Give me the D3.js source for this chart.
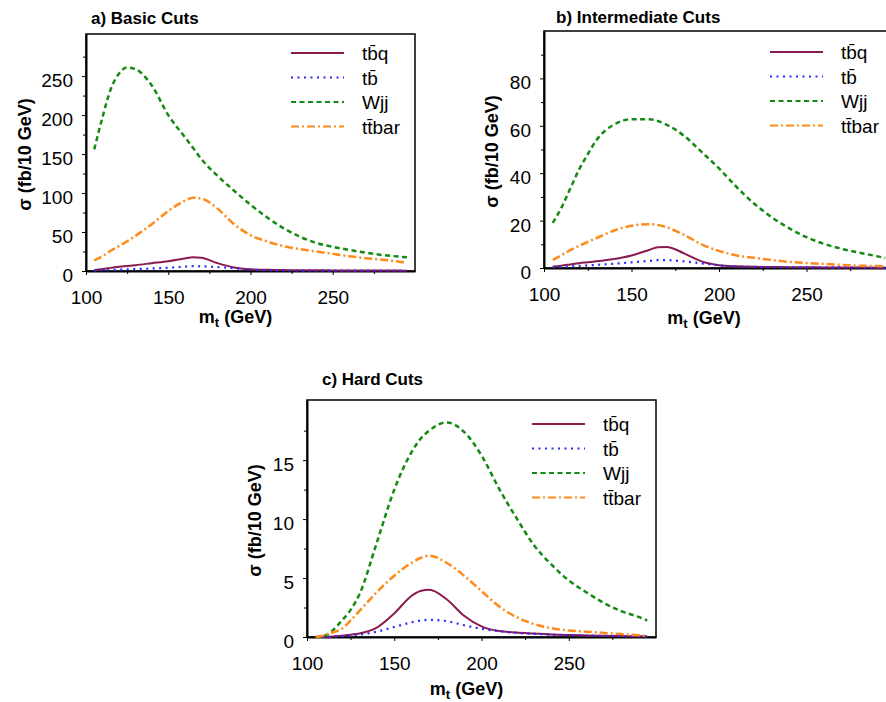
<!DOCTYPE html>
<html>
<head>
<meta charset="utf-8">
<script src="https://cdn.jsdelivr.net/npm/d3@7"></script>
<style>
    body { margin: 0; background: #fff; }
    svg { font-family: 'Liberation Sans', Arial, Helvetica, sans-serif; }
    .axis path, .axis line { stroke: #000; }
    .axis .domain { stroke-width: 2; }
    .frame { fill: none; stroke: #000; stroke-width: 1.5; }
    .title, .axis-label { font-weight: bold; }
</style>
</head>
<body>
<script>
// m_t grid (GeV)
const mt = [105, 110, 115, 120, 125, 130, 140, 150, 160, 165, 170, 180, 190, 200, 210, 220, 230, 240, 250, 260, 270, 280, 290, 295];

// a) basic cuts
const basicTbq = [1.3, 2.5, 4, 5.5, 6.5, 7.5, 10, 12.5, 16, 17.5, 17, 10, 4.5, 2.2, 1.5, 1.2, 1, 0.9, 0.8, 0.7, 0.6, 0.5, 0.5, 0.4];
const basicTb = [0.5, 1, 1.3, 1.7, 2, 2.4, 3.2, 4.2, 5.5, 6.2, 6, 5, 3.5, 1.8, 1, 0.7, 0.6, 0.5, 0.5, 0.4, 0.4, 0.3, 0.3, 0.3];
const basicWjj = [156, 197, 233, 253, 261, 259, 238, 200, 172, 158, 144, 122, 103, 85, 69, 55, 44, 36, 31, 27, 23.5, 20.5, 18.5, 17.5];
const basicTtbar = [13.5, 19, 26, 32, 38, 45, 60, 77, 90, 94, 93, 80, 60, 46, 38, 32, 28, 25, 22, 19, 16.5, 14.5, 12, 10.6];

// b) intermediate cuts
const interTbq = [0.6, 1, 1.5, 2, 2.4, 2.8, 3.8, 5.3, 7.6, 8.8, 8.9, 6.2, 2.8, 1.2, 0.7, 0.5, 0.4, 0.35, 0.3, 0.25, 0.2, 0.2, 0.15, 0.15];
const interTb = [0.3, 0.5, 0.7, 0.9, 1.1, 1.3, 1.8, 2.4, 3, 3.3, 3.3, 2.8, 2, 1.1, 0.6, 0.45, 0.4, 0.35, 0.3, 0.3, 0.25, 0.2, 0.2, 0.2];
const interWjj = [19, 25.5, 33.5, 41.5, 48, 54, 60.5, 62.8, 62.8, 62, 60.5, 55.8, 49, 42, 34.2, 27.2, 21.5, 16.8, 13, 10.2, 8.1, 6.5, 5, 4.2];
const interTtbar = [3.4, 5.4, 7.5, 9.3, 11, 12.6, 15.8, 17.8, 18.5, 18.2, 17.2, 14, 10, 7.2, 5.3, 4.3, 3.4, 2.6, 2.1, 1.7, 1.3, 1, 0.8, 0.7];

// c) hard cuts
const hardTbq = [0, 0.02, 0.05, 0.1, 0.2, 0.3, 0.8, 2, 3.5, 3.9, 4, 3.2, 1.8, 0.9, 0.5, 0.38, 0.3, 0.22, 0.17, 0.13, 0.1, 0.08, 0.06, 0.05];
const hardTb = [0, 0.01, 0.03, 0.07, 0.12, 0.2, 0.45, 0.85, 1.25, 1.4, 1.45, 1.35, 1, 0.7, 0.5, 0.35, 0.27, 0.2, 0.15, 0.12, 0.1, 0.08, 0.07, 0.06];
const hardWjj = [0, 0.1, 0.6, 1.4, 2.3, 3.6, 8, 12.5, 15.7, 16.8, 17.5, 18.2, 17.4, 15.4, 12.6, 10.1, 7.8, 6.15, 4.8, 3.8, 2.9, 2.2, 1.7, 1.4];
const hardTtbar = [0, 0.15, 0.4, 0.7, 1.4, 2.2, 3.8, 5.2, 6.3, 6.7, 6.9, 6.3, 5.2, 3.9, 2.6, 1.7, 1.1, 0.75, 0.55, 0.45, 0.35, 0.25, 0.15, 0.1];

const seriesNames = ['tb\u0304q', 'tb\u0304', 'Wjj', 'tt\u0304bar'];

const xMajor = [100, 150, 200, 250];
const xMinor = [125, 175, 225, 275];
const basicYTicks = [0, 50, 100, 150, 200, 250];
const basicYMinor = [25, 75, 125, 175, 225, 275];
const interYTicks = [0, 20, 40, 60, 80];
const interYMinor = [10, 30, 50, 70, 90];
const hardYTicks = [0, 5, 10, 15];
const hardYMinor = [2.5, 7.5, 12.5, 17.5];

const styles = [
    {color: '#8b1a4f', dash: null, width: 2},
    {color: '#2a2aff', dash: '2,4.5', width: 2.2},
    {color: '#138a13', dash: '5,3.5', width: 2.5},
    {color: '#ff8a1a', dash: '8,3,2,3', width: 2.5},
];

const panels = [
    {title: 'a) Basic Cuts', left: 86, top: 34, width: 329, height: 237, yMax: 304,
        yTicks: basicYTicks, yMinor: basicYMinor, titleX: 91, titleY: 24, yLabelX: 25, xLabelY: 323, legendTop: 53,
        series: [basicTbq, basicTb, basicWjj, basicTtbar]},
    {title: 'b) Intermediate Cuts', left: 544, top: 31, width: 350, height: 237, yMax: 100,
        yTicks: interYTicks, yMinor: interYMinor, titleX: 556, titleY: 23, yLabelX: 492, xLabelY: 324, legendTop: 52,
        series: [interTbq, interTb, interWjj, interTtbar]},
    {title: 'c) Hard Cuts', left: 307, top: 400, width: 349, height: 237, yMax: 20.1,
        yTicks: hardYTicks, yMinor: hardYMinor, titleX: 322, titleY: 385, yLabelX: 255, xLabelY: 695, legendTop: 424,
        series: [hardTbq, hardTb, hardWjj, hardTtbar]},
];

const fontStack = "'Liberation Sans', Arial, Helvetica, sans-serif";

const svg = d3.select('body').append('svg')
    .attr('width', 886)
    .attr('height', 702);

panels.forEach(p => {
    const x = d3.scaleLinear().domain([100, 300]).range([0, p.width]);
    const y = d3.scaleLinear().domain([0, p.yMax]).range([p.height, 0]);

    const g = svg.append('g')
        .attr('transform', `translate(${p.left}, ${p.top})`);

    g.append('rect')
        .attr('class', 'frame')
        .attr('width', p.width)
        .attr('height', p.height);

    // x axis
    g.append('g')
        .attr('class', 'axis')
        .attr('transform', `translate(0, ${p.height})`)
        .call(d3.axisBottom(x).tickValues(xMajor).tickSize(4).tickSizeOuter(0).tickPadding(16))
        .attr('font-size', 19)
        .attr('font-family', fontStack);

    g.append('g')
        .attr('class', 'axis')
        .attr('transform', `translate(0, ${p.height})`)
        .call(d3.axisBottom(x).tickValues(xMinor).tickSize(3).tickFormat(''))
        .call(a => a.select('.domain').remove());

    // y axis
    g.append('g')
        .attr('class', 'axis')
        .call(d3.axisLeft(y).tickValues(p.yTicks).tickSize(4).tickSizeOuter(0).tickPadding(9))
        .attr('font-size', 19)
        .attr('font-family', fontStack)
        .call(a => a.selectAll('text').attr('dy', '0.55em'));

    g.append('g')
        .attr('class', 'axis')
        .call(d3.axisLeft(y).tickValues(p.yMinor).tickSize(3).tickFormat(''))
        .call(a => a.select('.domain').remove());

    // curves
    const line = d3.line()
        .curve(d3.curveMonotoneX)
        .x((d, i) => x(mt[i]))
        .y(d => y(d));

    p.series.forEach((s, i) => {
        g.append('path')
            .datum(s)
            .attr('fill', 'none')
            .attr('stroke', styles[i].color)
            .attr('stroke-width', styles[i].width)
            .attr('stroke-dasharray', styles[i].dash)
            .attr('d', line);
    });

    // legend
    const legend = g.append('g')
        .attr('transform', `translate(${p.width - 124}, ${p.legendTop - p.top})`);

    seriesNames.forEach((name, i) => {
        legend.append('line')
            .attr('x1', 0)
            .attr('x2', 53)
            .attr('y1', i * 24.5)
            .attr('y2', i * 24.5)
            .attr('stroke', styles[i].color)
            .attr('stroke-width', 2)
            .attr('stroke-dasharray', styles[i].dash);
        legend.append('text')
            .attr('x', 71)
            .attr('y', i * 24.5 + 7)
            .attr('font-size', 19)
            .text(name);
    });

    // titles
    svg.append('text')
        .attr('class', 'title')
        .attr('x', p.titleX)
        .attr('y', p.titleY)
        .attr('font-size', 17)
        .text(p.title);

    const xl = svg.append('text')
        .attr('class', 'axis-label')
        .attr('x', p.left + p.width / 2 - 15)
        .attr('y', p.xLabelY)
        .attr('text-anchor', 'middle')
        .attr('font-size', 18);
    xl.append('tspan').text('m');
    xl.append('tspan').attr('font-size', 13).attr('dy', 4).text('t');
    xl.append('tspan').attr('dy', -4).text(' (GeV)');

    svg.append('text')
        .attr('class', 'axis-label')
        .attr('transform', `translate(${p.yLabelX}, ${p.top + p.height / 2 + 2}) rotate(-90)`)
        .attr('text-anchor', 'middle')
        .attr('dy', '0.35em')
        .attr('font-size', 18)
        .text('\u03c3 (fb/10 GeV)');
});
</script>
</body>
</html>
